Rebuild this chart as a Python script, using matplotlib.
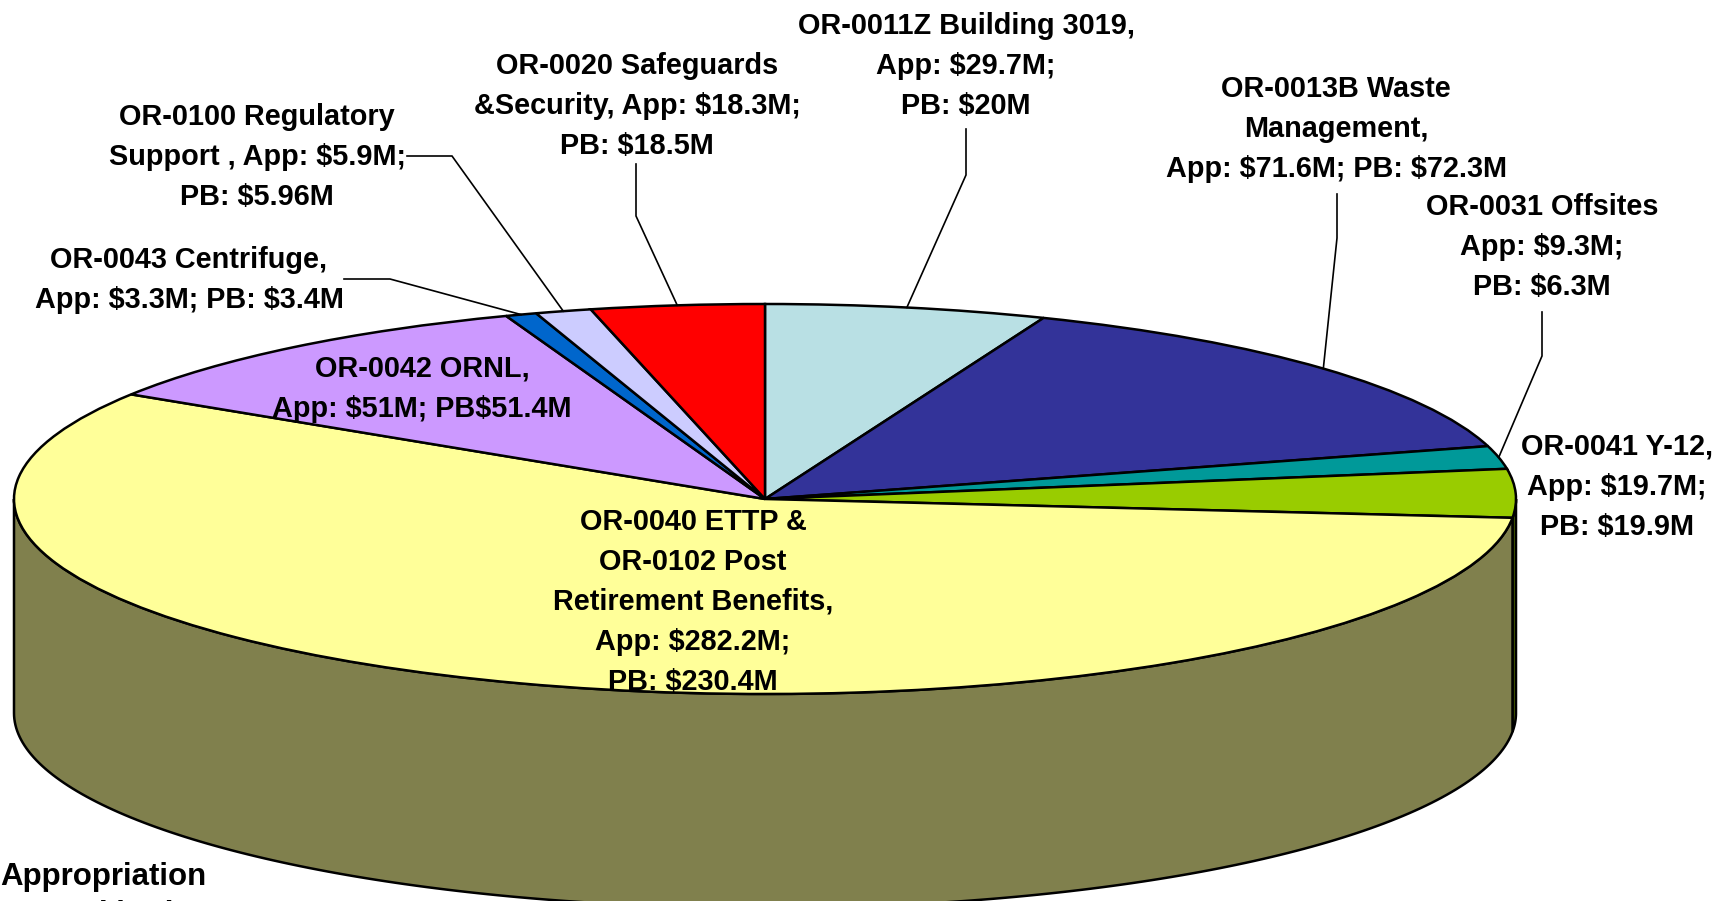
import numpy as np
import matplotlib
matplotlib.use("Agg")
import matplotlib.pyplot as plt

# Appropriation values, $M, clockwise from 12 o'clock
names = ["OR-0011Z", "OR-0013B", "OR-0031", "OR-0041", "OR-0040/0102",
         "OR-0042", "OR-0043", "OR-0100", "OR-0020"]
app = [29.7, 71.6, 9.3, 19.7, 282.2, 51, 3.3, 5.9, 18.3]
colors = ["#B9E0E4", "#333399", "#009999", "#99CC00", "#FFFF99",
          "#CC99FF", "#0066CC", "#CCCCFF", "#FF0000"]
wall_colors = ["#5D7072", "#1A1A4D", "#004D4D", "#4D6600", "#80804D",
               "#664D80", "#003366", "#666680", "#800000"]

labels = [
    "OR-0011Z Building 3019,\nApp: \\$29.7M;\nPB: \\$20M",
    "OR-0013B Waste\nManagement,\nApp: \\$71.6M; PB: \\$72.3M",
    "OR-0031 Offsites\nApp: \\$9.3M;\nPB: \\$6.3M",
    "OR-0041 Y-12,\nApp: \\$19.7M;\nPB: \\$19.9M",
    "OR-0040 ETTP &\nOR-0102 Post\nRetirement Benefits,\nApp: \\$282.2M;\nPB: \\$230.4M",
    "OR-0042 ORNL,\nApp: \\$51M; PB\\$51.4M",
    "OR-0043 Centrifuge,\nApp: \\$3.3M; PB: \\$3.4M",
    "OR-0100 Regulatory\nSupport , App: \\$5.9M;\nPB: \\$5.96M",
    "OR-0020 Safeguards\n&Security, App: \\$18.3M;\nPB: \\$18.5M",
]
# label centres in figure pixels
label_x = [966, 1336, 1542, 1617, 693, 422, 189, 257, 637]
label_y = [66, 129, 247, 487, 602, 389, 280, 157, 106]

# leader elbows in figure pixels, the far end comes from the slice angle
leaders = {
    0: [(966, 129), (966, 175)],
    1: [(1337, 194), (1337, 238)],
    2: [(1542, 312), (1542, 356)],
    6: [(344, 279), (390, 279)],
    7: [(407, 156), (452, 156)],
    8: [(636, 164), (636, 216)],
}

W, H = 1717, 901
cx, cy = 765, 499
rx, ry = 751, 195
depth = 214

fig = plt.figure(figsize=(W / 100, H / 100), dpi=100)
plt.rcParams["font.family"] = ["Liberation Sans", "DejaVu Sans"]

ax = fig.add_axes([0, 0, 1, 1])
ax.pie(
    app,
    colors=colors,
    startangle=90,
    counterclock=False,
    wedgeprops={"edgecolor": "black", "linewidth": 1.8},
)
ax.set_aspect("auto")
ax.set_xlim(-cx / rx, (W - cx) / rx)
ax.set_ylim((cy - H) / ry, cy / ry)
ax.axis("off")

# side wall, only the front half of the cake shows
edges = np.concatenate([[0], np.cumsum(app)]) / sum(app) * 360
d = depth / ry
for i in range(len(app)):
    a = max(edges[i], 90)
    b = min(edges[i + 1], 270)
    if a >= b:
        continue
    t = np.radians(np.linspace(a, b, 200))
    x = np.sin(t)
    y = np.cos(t)
    ax.fill(
        np.concatenate([x, x[::-1]]),
        np.concatenate([y, y[::-1] - d]),
        facecolor=wall_colors[i],
        edgecolor="black",
        linewidth=1.8,
        zorder=0.5,
    )

# overlay in figure pixels for text and leaders
top = fig.add_axes([0, 0, 1, 1])
top.set_xlim(0, W)
top.set_ylim(H, 0)
top.axis("off")

mids = (edges[:-1] + edges[1:]) / 2
for i, pts in leaders.items():
    t = np.radians(mids[i])
    end = (cx + rx * np.sin(t), cy - ry * np.cos(t))
    xs, ys = zip(*(pts + [end]))
    top.plot(xs, ys, color="black", linewidth=1.2, solid_joinstyle="miter")

for txt, x, y in zip(labels, label_x, label_y):
    top.text(x, y, txt, ha="center", va="center", fontsize=20.8,
             fontweight="bold", linespacing=1.55, color="black")

top.text(0, 877, "Appropriation", ha="left", va="center", fontsize=22.5,
         fontweight="bold", color="black")
top.text(52, 915, "and budget", ha="left", va="center", fontsize=22.5,
         fontweight="bold", color="black", clip_on=True)

fig.savefig("out.png", dpi=100)
